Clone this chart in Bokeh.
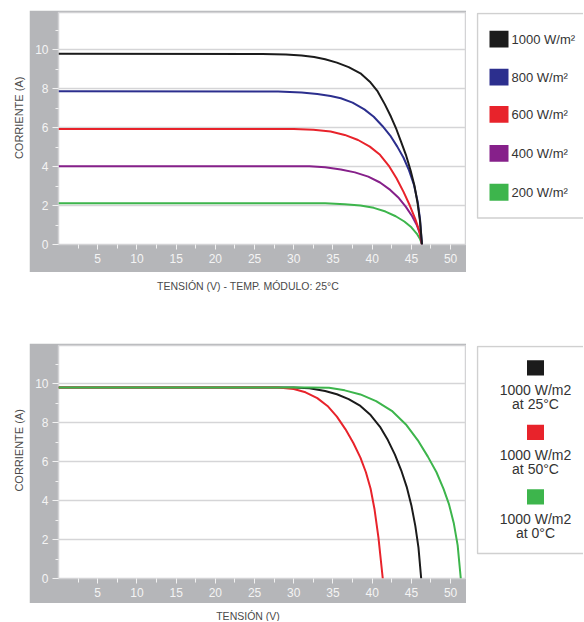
import math
from bokeh.plotting import figure
from bokeh.models import Range1d, FixedTicker, Spacer
from bokeh.layouts import column, row
from bokeh.embed import file_html
from bokeh.resources import INLINE
from bokeh.core.properties import value

# ---------------- data ----------------
X_TICKS = [5, 10, 15, 20, 25, 30, 35, 40, 45, 50]
X_MINOR = [2.5, 7.5, 12.5, 17.5, 22.5, 27.5, 32.5, 37.5, 42.5, 47.5]
Y_TICKS = [0, 2, 4, 6, 8, 10]
Y_MINOR = [1, 3, 5, 7, 9, 11]

# Top chart: irradiance series, module temperature 25 C
top_labels = ["1000 W/m\u00b2", "800 W/m\u00b2", "600 W/m\u00b2", "400 W/m\u00b2", "200 W/m\u00b2"]
top_colors = ["#1b1b1b", "#2c2f8e", "#e8232b", "#86208a", "#3db54c"]

v_1000 = [0, 26, 29, 31, 32.6, 34, 35.5, 37, 38.5, 39.7, 40.7, 41.6, 42.4, 43.1, 43.7, 44.3, 44.9, 45.4, 45.8, 46.1, 46.35]
i_1000 = [9.78, 9.77, 9.75, 9.70, 9.62, 9.5, 9.33, 9.1, 8.78, 8.35, 7.85, 7.2, 6.55, 5.9, 5.25, 4.6, 3.8, 3.0, 2.1, 1.2, 0]
v_800 = [0, 28, 31, 33, 34.7, 36, 37.5, 39, 40.2, 41.3, 42.3, 43.2, 44.0, 44.7, 45.3, 45.8, 46.1, 46.35]
i_800 = [7.86, 7.85, 7.8, 7.72, 7.62, 7.5, 7.28, 6.93, 6.55, 6.08, 5.59, 5.02, 4.45, 3.8, 3.1, 2.2, 1.3, 0]
v_600 = [0, 30, 32.5, 34.7, 36.5, 38.2, 39.7, 41.0, 42.1, 43.1, 44.0, 44.8, 45.5, 46.0, 46.35]
i_600 = [5.93, 5.92, 5.88, 5.8, 5.62, 5.36, 5.02, 4.6, 4.05, 3.4, 2.7, 2.0, 1.3, 0.7, 0]
v_400 = [0, 32, 34, 36, 37.8, 39.5, 41.0, 42.3, 43.4, 44.3, 45.1, 45.7, 46.1, 46.35]
i_400 = [4.02, 4.01, 3.96, 3.85, 3.7, 3.48, 3.18, 2.8, 2.38, 1.93, 1.45, 0.98, 0.55, 0]
v_200 = [0, 34, 36.5, 38.5, 40.2, 41.7, 43.0, 44.1, 45.0, 45.7, 46.1, 46.35]
i_200 = [2.12, 2.11, 2.07, 2.0, 1.88, 1.69, 1.45, 1.18, 0.88, 0.55, 0.28, 0]

# Bottom chart: 1000 W/m2 at three temperatures
bot_line1 = ["1000 W/m2", "1000 W/m2", "1000 W/m2"]
bot_line2 = ["at 25\u00b0C", "at 50\u00b0C", "at 0\u00b0C"]
bot_colors = ["#1b1b1b", "#e8232b", "#3db54c"]

v_25c = [0, 30, 32, 34, 35.5, 37, 38.5, 39.8, 41.0, 42.0, 42.9, 43.7, 44.4, 45.0, 45.5, 45.9, 46.25]
i_25c = [9.8, 9.8, 9.76, 9.62, 9.45, 9.2, 8.85, 8.38, 7.78, 7.1, 6.35, 5.55, 4.7, 3.75, 2.7, 1.6, 0]
v_50c = [0, 28, 30, 31.5, 33, 34.3, 35.5, 36.6, 37.6, 38.5, 39.2, 39.8, 40.3, 40.8, 41.35]
i_50c = [9.8, 9.8, 9.72, 9.55, 9.25, 8.85, 8.3, 7.65, 6.95, 6.2, 5.45, 4.6, 3.55, 2.1, 0]
v_0c = [0, 32, 34.5, 36.5, 38.5, 40.5, 42.5, 44.3, 45.8, 47.1, 48.2, 49.1, 49.8, 50.4, 50.9, 51.3]
i_0c = [9.8, 9.8, 9.78, 9.65, 9.44, 9.1, 8.6, 7.9, 7.1, 6.25, 5.45, 4.6, 3.8, 2.85, 1.7, 0]

top_series = [(v_1000, i_1000), (v_800, i_800), (v_600, i_600), (v_400, i_400), (v_200, i_200)]
bot_series = [(v_25c, i_25c), (v_50c, i_50c), (v_0c, i_0c)]

# ---------------- styling ----------------
PANEL = "#b5b6b9"
GRID = "#d5d5d7"
FONT = "Liberation Sans"
TXT = "#4a4a4a"


def bare(w, h):
    p = figure(width=w, height=h, x_range=Range1d(0, w), y_range=Range1d(h, 0),
               x_axis_type=None, y_axis_type=None, output_backend="svg",
               toolbar_location=None, min_border=0, outline_line_color=None,
               background_fill_color="white", border_fill_color="white")
    p.grid.visible = False
    return p


def main_plot(height, ymax, bottom_border, series, colors, order):
    p = figure(width=437, height=height, x_range=Range1d(0, 51.9), y_range=Range1d(0, ymax),
               output_backend="svg", toolbar_location=None,
               min_border_left=29, min_border_right=1, min_border_top=2,
               min_border_bottom=bottom_border,
               border_fill_color=PANEL, background_fill_color="white",
               outline_line_color="#d3d3d5", outline_line_width=1.5)
    p.xaxis.ticker = FixedTicker(ticks=X_TICKS, minor_ticks=X_MINOR)
    p.yaxis.ticker = FixedTicker(ticks=Y_TICKS, minor_ticks=Y_MINOR)
    for ax in (p.xaxis, p.yaxis):
        ax.axis_line_color = None
        ax.major_tick_line_color = "#f2f2f2"
        ax.minor_tick_line_color = "#f2f2f2"
        ax.major_tick_in = 0
        ax.minor_tick_in = 0
        ax.major_label_text_color = "#f4f4f4"
        ax.major_label_text_font = FONT
        ax.major_label_text_font_size = "12px"
    p.xaxis.major_tick_out = 5
    p.xaxis.minor_tick_out = 4
    p.xaxis.major_label_standoff = 4
    p.yaxis.major_tick_out = 6
    p.yaxis.minor_tick_out = 3
    p.yaxis.major_label_standoff = 4
    p.xgrid.grid_line_color = None
    p.ygrid.grid_line_color = GRID
    p.ygrid.grid_line_width = 1.5
    for k in order:
        v, i = series[k]
        p.line(v, i, line_color=colors[k], line_width=2)
    return p


def ylabel(height, yc):
    p = bare(29, height)
    p.text(x=[18], y=[yc], text=["CORRIENTE (A)"], angle=math.pi / 2,
           text_align="center", text_baseline="middle", text_color=TXT,
           text_font=value(FONT), text_font_size="11px")
    return p


def xlabel(height, yc, label):
    p = bare(583, height)
    p.text(x=[247.5], y=[yc], text=[label], text_align="center", text_baseline="middle",
           text_color=TXT, text_font=value(FONT), text_font_size="10.5px")
    return p


# ---- top section ----
main1 = main_plot(262, 11.9, 28, top_series, top_colors, [4, 3, 2, 1, 0])
leg1 = bare(107, 262)
leg1.quad(left=[1], right=[140], top=[1], bottom=[232], fill_color="white",
          line_color="#d0d0d0", line_width=1.5)
leg_y1 = [30, 73, 115, 159, 203]
leg1.rect(x=[22.5] * 5, y=leg_y1, width=19, height=19, fill_color=top_colors, line_color=None)
leg1.text(x=[35] * 5, y=leg_y1, text=top_labels, text_baseline="middle", text_align="left",
          text_color="#333333", text_font=value(FONT), text_font_size="13px")

# ---- bottom section ----
main2 = main_plot(260, 11.95, 25, bot_series, bot_colors, [0, 1, 2])
leg2 = bare(107, 260)
leg2.quad(left=[1], right=[140], top=[1], bottom=[232], fill_color="white",
          line_color="#d0d0d0", line_width=1.5)
sq_y = [25, 97, 169]
leg2.rect(x=[59] * 3, y=sq_y, width=17, height=17, fill_color=bot_colors, line_color=None)
leg2.text(x=[59] * 3, y=[y + 25 for y in sq_y], text=bot_line1, text_align="center",
          text_baseline="middle", text_color="#333333",
          text_font=value(FONT), text_font_size="14px")
leg2.text(x=[59] * 3, y=[y + 40.5 for y in sq_y], text=bot_line2, text_align="center",
          text_baseline="middle", text_color="#333333",
          text_font=value(FONT), text_font_size="14px")

layout = column(
    Spacer(width=583, height=10),
    row(ylabel(262, 119), main1, Spacer(width=10, height=262), leg1),
    xlabel(71, 13, "TENSI\u00d3N (V) - TEMP. M\u00d3DULO: 25\u00b0C"),
    row(ylabel(260, 117), main2, Spacer(width=10, height=260), leg2),
    xlabel(18, 12, "TENSI\u00d3N (V)"),
)

open("out.html", "w").write(file_html(layout, INLINE))
